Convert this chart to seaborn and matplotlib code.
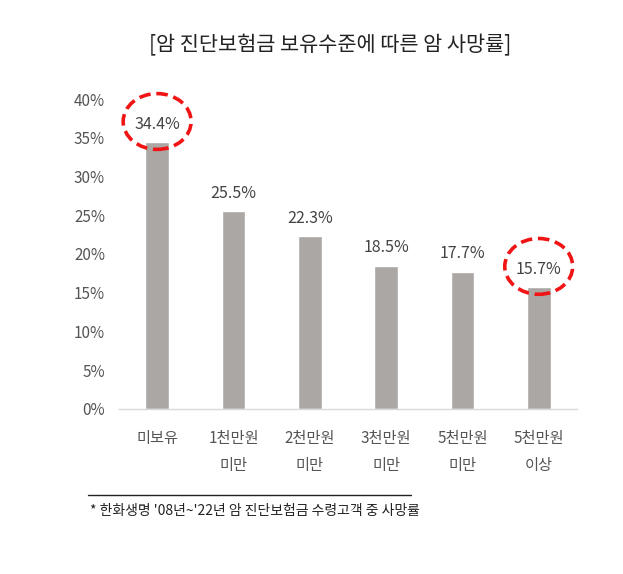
import matplotlib
matplotlib.use("Agg")
import matplotlib.pyplot as plt
import seaborn as sns
import pandas as pd
from matplotlib.patches import Ellipse
from matplotlib.lines import Line2D

categories = ["미보유", "1천만원\n미만", "2천만원\n미만", "3천만원\n미만", "5천만원\n미만", "5천만원\n이상"]
values = [34.4, 25.5, 22.3, 18.5, 17.7, 15.7]
value_labels = ["34.4%", "25.5%", "22.3%", "18.5%", "17.7%", "15.7%"]
highlight = [0, 5]
yticks = [0, 5, 10, 15, 20, 25, 30, 35, 40]
title = "[암 진단보험금 보유수준에 따른 암 사망률]"
footnote = "* 한화생명 '08년~'22년 암 진단보험금 수령고객 중 사망률"

sns.set_theme(style="white")
plt.rcParams['font.family'] = ['Noto Sans CJK KR', 'DejaVu Sans']

df = pd.DataFrame({"cat": categories, "val": values})

fig = plt.figure(figsize=(6.23, 5.74), dpi=100)
ax = fig.add_axes([0.191, 0.2875, 0.735, 0.54])
sns.barplot(data=df, x="cat", y="val", color="#ABA7A5", width=0.31, ax=ax, saturation=1)

ax.set_ylim(0, 40)
ax.set_xlim(-0.5, 5.5)
ax.set_yticks(yticks)
ax.set_yticklabels([f"{t}%" for t in yticks], fontsize=11, color="#555555")
ax.tick_params(axis='y', length=0, pad=10)
ax.tick_params(axis='x', length=0, pad=15)
for lbl in ax.get_xticklabels():
    lbl.set_fontsize(11)
    lbl.set_color("#555555")
    lbl.set_linespacing(1.75)
ax.set_xlabel("")
ax.set_ylabel("")
for s in ["top", "right", "left"]:
    ax.spines[s].set_visible(False)
ax.spines["bottom"].set_color("#D9D9D9")
ax.spines["bottom"].set_linewidth(1)

for i, (v, lab) in enumerate(zip(values, value_labels)):
    ax.text(i, v + 2.3, lab, ha="center", va="center", fontsize=11.5, color="#444444")

for i in highlight:
    e = Ellipse((i, values[i] + 2.7), width=0.89, height=7.2, fill=False,
                edgecolor="#F01414", linewidth=2.6, linestyle=(0, (3.2, 1.6)), zorder=5,
                clip_on=False)
    ax.add_patch(e)

fig.text(0.53, 0.921, title, ha="center", va="center", fontsize=15, color="#222222")
fig.add_artist(Line2D([88/623, 411/623], [1-495/574, 1-495/574], color="#222222", linewidth=1))
fig.text(90/623, 1-511/574, footnote, ha="left", va="center", fontsize=10, color="#222222")

fig.savefig("out.png", dpi=100)
